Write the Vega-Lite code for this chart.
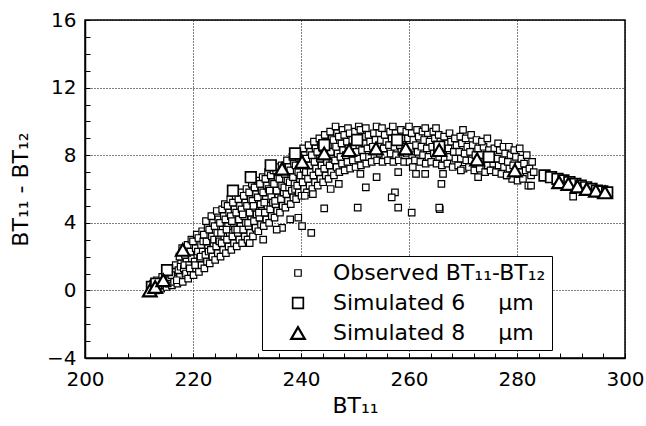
{
"$schema":"https://vega.github.io/schema/vega-lite/v6.json",
"width":540,"height":338,
"autosize":{"type":"none"},
"padding":{"left":85,"top":20,"right":21,"bottom":68},
"background":"white",
"config":{"font":"DejaVu Sans","view":{"stroke":"black","strokeWidth":1.5}},
"data":{"values":[
{"s":"o","x":212.1,"y":0.1},{"s":"o","x":212.6,"y":0.4},{"s":"o","x":212.3,"y":-0.1},
{"s":"o","x":213.1,"y":0.0},{"s":"o","x":213.6,"y":0.3},{"s":"o","x":213.3,"y":0.6},{"s":"o","x":213.8,"y":0.2},
{"s":"o","x":214.1,"y":0.1},{"s":"o","x":214.6,"y":0.5},{"s":"o","x":214.3,"y":0.8},{"s":"o","x":214.8,"y":0.3},
{"s":"o","x":215.1,"y":0.2},{"s":"o","x":215.6,"y":0.6},{"s":"o","x":215.3,"y":1.0},{"s":"o","x":215.8,"y":1.3},{"s":"o","x":215.5,"y":0.4},
{"s":"o","x":216.1,"y":0.3},{"s":"o","x":216.6,"y":0.7},{"s":"o","x":216.3,"y":1.1},{"s":"o","x":216.8,"y":1.5},{"s":"o","x":216.5,"y":0.5},{"s":"o","x":216.0,"y":0.9},
{"s":"o","x":217.1,"y":0.4},{"s":"o","x":217.6,"y":0.8},{"s":"o","x":217.3,"y":1.2},{"s":"o","x":217.8,"y":1.6},{"s":"o","x":217.5,"y":2.0},{"s":"o","x":217.0,"y":0.6},{"s":"o","x":217.7,"y":1.4},
{"s":"o","x":218.1,"y":0.5},{"s":"o","x":218.6,"y":0.9},{"s":"o","x":218.3,"y":1.3},{"s":"o","x":218.8,"y":1.7},{"s":"o","x":218.5,"y":2.1},{"s":"o","x":218.0,"y":2.5},{"s":"o","x":218.7,"y":1.0},{"s":"o","x":218.4,"y":1.5},
{"s":"o","x":219.1,"y":0.7},{"s":"o","x":219.6,"y":1.1},{"s":"o","x":219.3,"y":1.5},{"s":"o","x":219.8,"y":1.9},{"s":"o","x":219.5,"y":2.3},{"s":"o","x":219.0,"y":2.7},{"s":"o","x":219.7,"y":3.0},{"s":"o","x":219.4,"y":1.3},
{"s":"o","x":220.1,"y":0.9},{"s":"o","x":220.6,"y":1.3},{"s":"o","x":220.3,"y":1.7},{"s":"o","x":220.8,"y":2.1},{"s":"o","x":220.5,"y":2.5},{"s":"o","x":220.0,"y":2.9},{"s":"o","x":220.7,"y":3.3},{"s":"o","x":220.4,"y":1.5},{"s":"o","x":220.9,"y":2.3},
{"s":"o","x":221.1,"y":1.1},{"s":"o","x":221.6,"y":1.5},{"s":"o","x":221.3,"y":1.9},{"s":"o","x":221.8,"y":2.3},{"s":"o","x":221.5,"y":2.7},{"s":"o","x":221.0,"y":3.1},{"s":"o","x":221.7,"y":3.5},{"s":"o","x":221.4,"y":2.0},{"s":"o","x":221.9,"y":2.9},
{"s":"o","x":222.1,"y":1.3},{"s":"o","x":222.6,"y":1.7},{"s":"o","x":222.3,"y":2.1},{"s":"o","x":222.8,"y":2.5},{"s":"o","x":222.5,"y":2.9},{"s":"o","x":222.0,"y":3.3},{"s":"o","x":222.7,"y":3.7},{"s":"o","x":222.4,"y":4.1},{"s":"o","x":222.9,"y":2.3},
{"s":"o","x":223.1,"y":1.6},{"s":"o","x":223.6,"y":2.0},{"s":"o","x":223.3,"y":2.4},{"s":"o","x":223.8,"y":2.8},{"s":"o","x":223.5,"y":3.2},{"s":"o","x":223.0,"y":3.6},{"s":"o","x":223.7,"y":4.0},{"s":"o","x":223.4,"y":4.4},{"s":"o","x":223.9,"y":3.0},
{"s":"o","x":224.1,"y":1.8},{"s":"o","x":224.6,"y":2.2},{"s":"o","x":224.3,"y":2.6},{"s":"o","x":224.8,"y":3.0},{"s":"o","x":224.5,"y":3.4},{"s":"o","x":224.0,"y":3.8},{"s":"o","x":224.7,"y":4.2},{"s":"o","x":224.4,"y":4.7},{"s":"o","x":224.9,"y":2.9},
{"s":"o","x":225.1,"y":2.0},{"s":"o","x":225.6,"y":2.4},{"s":"o","x":225.3,"y":2.8},{"s":"o","x":225.8,"y":3.2},{"s":"o","x":225.5,"y":3.6},{"s":"o","x":225.0,"y":4.0},{"s":"o","x":225.7,"y":4.4},{"s":"o","x":225.4,"y":4.8},{"s":"o","x":225.9,"y":5.1},{"s":"o","x":225.2,"y":3.4},
{"s":"o","x":226.1,"y":2.2},{"s":"o","x":226.6,"y":2.6},{"s":"o","x":226.3,"y":3.0},{"s":"o","x":226.8,"y":3.4},{"s":"o","x":226.5,"y":3.8},{"s":"o","x":226.0,"y":4.2},{"s":"o","x":226.7,"y":4.6},{"s":"o","x":226.4,"y":5.0},{"s":"o","x":226.9,"y":5.4},{"s":"o","x":226.2,"y":3.6},
{"s":"o","x":227.1,"y":2.4},{"s":"o","x":227.6,"y":2.8},{"s":"o","x":227.3,"y":3.2},{"s":"o","x":227.8,"y":3.6},{"s":"o","x":227.5,"y":4.0},{"s":"o","x":227.0,"y":4.4},{"s":"o","x":227.7,"y":4.8},{"s":"o","x":227.4,"y":5.2},{"s":"o","x":227.9,"y":5.6},{"s":"o","x":227.2,"y":4.1},
{"s":"o","x":228.1,"y":2.6},{"s":"o","x":228.6,"y":3.0},{"s":"o","x":228.3,"y":3.4},{"s":"o","x":228.8,"y":3.8},{"s":"o","x":228.5,"y":4.2},{"s":"o","x":228.0,"y":4.6},{"s":"o","x":228.7,"y":5.0},{"s":"o","x":228.4,"y":5.4},{"s":"o","x":228.9,"y":5.8},{"s":"o","x":228.2,"y":3.6},
{"s":"o","x":229.1,"y":2.8},{"s":"o","x":229.6,"y":3.2},{"s":"o","x":229.3,"y":3.6},{"s":"o","x":229.8,"y":4.0},{"s":"o","x":229.5,"y":4.4},{"s":"o","x":229.0,"y":4.8},{"s":"o","x":229.7,"y":5.2},{"s":"o","x":229.4,"y":5.6},{"s":"o","x":229.9,"y":6.0},{"s":"o","x":229.2,"y":4.5},
{"s":"o","x":230.1,"y":3.0},{"s":"o","x":230.6,"y":3.4},{"s":"o","x":230.3,"y":3.8},{"s":"o","x":230.8,"y":4.2},{"s":"o","x":230.5,"y":4.6},{"s":"o","x":230.0,"y":5.0},{"s":"o","x":230.7,"y":5.4},{"s":"o","x":230.4,"y":5.8},{"s":"o","x":230.9,"y":6.3},{"s":"o","x":230.2,"y":4.0},
{"s":"o","x":231.1,"y":3.2},{"s":"o","x":231.6,"y":3.7},{"s":"o","x":231.3,"y":4.1},{"s":"o","x":231.8,"y":4.5},{"s":"o","x":231.5,"y":4.9},{"s":"o","x":231.0,"y":5.3},{"s":"o","x":231.7,"y":5.7},{"s":"o","x":231.4,"y":6.1},{"s":"o","x":231.9,"y":6.5},{"s":"o","x":231.2,"y":5.0},
{"s":"o","x":232.1,"y":3.5},{"s":"o","x":232.6,"y":3.9},{"s":"o","x":232.3,"y":4.3},{"s":"o","x":232.8,"y":4.7},{"s":"o","x":232.5,"y":5.1},{"s":"o","x":232.0,"y":5.5},{"s":"o","x":232.7,"y":5.9},{"s":"o","x":232.4,"y":6.3},{"s":"o","x":232.9,"y":6.7},{"s":"o","x":232.2,"y":4.6},
{"s":"o","x":233.1,"y":3.8},{"s":"o","x":233.6,"y":4.2},{"s":"o","x":233.3,"y":4.6},{"s":"o","x":233.8,"y":5.0},{"s":"o","x":233.5,"y":5.4},{"s":"o","x":233.0,"y":5.8},{"s":"o","x":233.7,"y":6.2},{"s":"o","x":233.4,"y":6.6},{"s":"o","x":233.9,"y":7.0},{"s":"o","x":233.2,"y":5.2},
{"s":"o","x":234.1,"y":4.0},{"s":"o","x":234.6,"y":4.4},{"s":"o","x":234.3,"y":4.8},{"s":"o","x":234.8,"y":5.2},{"s":"o","x":234.5,"y":5.6},{"s":"o","x":234.0,"y":6.0},{"s":"o","x":234.7,"y":6.4},{"s":"o","x":234.4,"y":6.8},{"s":"o","x":234.9,"y":7.1},{"s":"o","x":234.2,"y":5.9},
{"s":"o","x":235.1,"y":4.3},{"s":"o","x":235.6,"y":4.7},{"s":"o","x":235.3,"y":5.1},{"s":"o","x":235.8,"y":5.5},{"s":"o","x":235.5,"y":5.9},{"s":"o","x":235.0,"y":6.3},{"s":"o","x":235.7,"y":6.7},{"s":"o","x":235.4,"y":7.1},{"s":"o","x":235.9,"y":7.3},{"s":"o","x":235.2,"y":5.3},
{"s":"o","x":236.1,"y":4.6},{"s":"o","x":236.6,"y":5.0},{"s":"o","x":236.3,"y":5.4},{"s":"o","x":236.8,"y":5.8},{"s":"o","x":236.5,"y":6.2},{"s":"o","x":236.0,"y":6.6},{"s":"o","x":236.7,"y":7.0},{"s":"o","x":236.4,"y":7.4},{"s":"o","x":236.9,"y":6.1},
{"s":"o","x":237.1,"y":4.9},{"s":"o","x":237.6,"y":5.3},{"s":"o","x":237.3,"y":5.7},{"s":"o","x":237.8,"y":6.1},{"s":"o","x":237.5,"y":6.5},{"s":"o","x":237.0,"y":6.9},{"s":"o","x":237.7,"y":7.3},{"s":"o","x":237.4,"y":7.7},{"s":"o","x":237.9,"y":6.4},
{"s":"o","x":238.1,"y":5.1},{"s":"o","x":238.6,"y":5.5},{"s":"o","x":238.3,"y":5.9},{"s":"o","x":238.8,"y":6.3},{"s":"o","x":238.5,"y":6.7},{"s":"o","x":238.0,"y":7.1},{"s":"o","x":238.7,"y":7.5},{"s":"o","x":238.4,"y":7.9},{"s":"o","x":238.9,"y":6.0},
{"s":"o","x":239.1,"y":5.4},{"s":"o","x":239.6,"y":5.8},{"s":"o","x":239.3,"y":6.2},{"s":"o","x":239.8,"y":6.6},{"s":"o","x":239.5,"y":7.0},{"s":"o","x":239.0,"y":7.4},{"s":"o","x":239.7,"y":7.8},{"s":"o","x":239.4,"y":8.1},{"s":"o","x":239.9,"y":6.8},
{"s":"o","x":240.1,"y":5.6},{"s":"o","x":240.6,"y":6.0},{"s":"o","x":240.3,"y":6.4},{"s":"o","x":240.8,"y":6.8},{"s":"o","x":240.5,"y":7.2},{"s":"o","x":240.0,"y":7.6},{"s":"o","x":240.7,"y":8.0},{"s":"o","x":240.4,"y":8.4},{"s":"o","x":240.9,"y":7.0},
{"s":"o","x":241.1,"y":5.8},{"s":"o","x":241.6,"y":6.2},{"s":"o","x":241.3,"y":6.6},{"s":"o","x":241.8,"y":7.0},{"s":"o","x":241.5,"y":7.4},{"s":"o","x":241.0,"y":7.8},{"s":"o","x":241.7,"y":8.2},{"s":"o","x":241.4,"y":8.6},
{"s":"o","x":242.1,"y":6.0},{"s":"o","x":242.6,"y":6.4},{"s":"o","x":242.3,"y":6.8},{"s":"o","x":242.8,"y":7.2},{"s":"o","x":242.5,"y":7.6},{"s":"o","x":242.0,"y":8.0},{"s":"o","x":242.7,"y":8.4},{"s":"o","x":242.4,"y":8.8},
{"s":"o","x":243.1,"y":6.2},{"s":"o","x":243.6,"y":6.6},{"s":"o","x":243.3,"y":7.0},{"s":"o","x":243.8,"y":7.4},{"s":"o","x":243.5,"y":7.8},{"s":"o","x":243.0,"y":8.2},{"s":"o","x":243.7,"y":8.6},{"s":"o","x":243.4,"y":9.0},
{"s":"o","x":244.1,"y":6.4},{"s":"o","x":244.6,"y":6.8},{"s":"o","x":244.3,"y":7.2},{"s":"o","x":244.8,"y":7.6},{"s":"o","x":244.5,"y":8.0},{"s":"o","x":244.0,"y":8.4},{"s":"o","x":244.7,"y":8.8},{"s":"o","x":244.4,"y":9.2},
{"s":"o","x":245.1,"y":6.6},{"s":"o","x":245.6,"y":7.0},{"s":"o","x":245.3,"y":7.4},{"s":"o","x":245.8,"y":7.8},{"s":"o","x":245.5,"y":8.2},{"s":"o","x":245.0,"y":8.6},{"s":"o","x":245.7,"y":9.0},{"s":"o","x":245.4,"y":9.4},
{"s":"o","x":246.1,"y":6.8},{"s":"o","x":246.6,"y":7.3},{"s":"o","x":246.3,"y":7.7},{"s":"o","x":246.8,"y":8.1},{"s":"o","x":246.5,"y":8.5},{"s":"o","x":246.0,"y":8.9},{"s":"o","x":246.7,"y":9.3},{"s":"o","x":246.4,"y":9.7},
{"s":"o","x":247.1,"y":7.0},{"s":"o","x":247.6,"y":7.5},{"s":"o","x":247.3,"y":7.9},{"s":"o","x":247.8,"y":8.3},{"s":"o","x":247.5,"y":8.7},{"s":"o","x":247.0,"y":9.1},{"s":"o","x":247.7,"y":9.5},
{"s":"o","x":248.1,"y":7.1},{"s":"o","x":248.6,"y":7.6},{"s":"o","x":248.3,"y":8.0},{"s":"o","x":248.8,"y":8.4},{"s":"o","x":248.5,"y":8.8},{"s":"o","x":248.0,"y":9.2},{"s":"o","x":248.7,"y":9.6},
{"s":"o","x":249.1,"y":7.2},{"s":"o","x":249.6,"y":7.7},{"s":"o","x":249.3,"y":8.1},{"s":"o","x":249.8,"y":8.5},{"s":"o","x":249.5,"y":8.9},{"s":"o","x":249.0,"y":9.3},
{"s":"o","x":250.1,"y":7.3},{"s":"o","x":250.6,"y":7.8},{"s":"o","x":250.3,"y":8.2},{"s":"o","x":250.8,"y":8.6},{"s":"o","x":250.5,"y":9.0},{"s":"o","x":250.0,"y":9.4},{"s":"o","x":250.7,"y":9.7},
{"s":"o","x":251.1,"y":7.4},{"s":"o","x":251.6,"y":7.9},{"s":"o","x":251.3,"y":8.3},{"s":"o","x":251.8,"y":8.7},{"s":"o","x":251.5,"y":9.1},{"s":"o","x":251.0,"y":9.5},
{"s":"o","x":252.1,"y":7.5},{"s":"o","x":252.6,"y":7.9},{"s":"o","x":252.3,"y":8.4},{"s":"o","x":252.8,"y":8.8},{"s":"o","x":252.5,"y":9.2},{"s":"o","x":252.0,"y":9.6},
{"s":"o","x":253.1,"y":7.6},{"s":"o","x":253.6,"y":8.0},{"s":"o","x":253.3,"y":8.5},{"s":"o","x":253.8,"y":8.9},{"s":"o","x":253.5,"y":9.3},
{"s":"o","x":254.1,"y":7.7},{"s":"o","x":254.6,"y":8.1},{"s":"o","x":254.3,"y":8.5},{"s":"o","x":254.8,"y":8.9},{"s":"o","x":254.5,"y":9.3},{"s":"o","x":254.0,"y":9.7},
{"s":"o","x":255.1,"y":7.6},{"s":"o","x":255.6,"y":8.0},{"s":"o","x":255.3,"y":8.4},{"s":"o","x":255.8,"y":8.8},{"s":"o","x":255.5,"y":9.2},{"s":"o","x":255.0,"y":9.6},
{"s":"o","x":256.1,"y":7.7},{"s":"o","x":256.6,"y":8.1},{"s":"o","x":256.3,"y":8.6},{"s":"o","x":256.8,"y":9.0},{"s":"o","x":256.5,"y":9.4},
{"s":"o","x":257.1,"y":7.6},{"s":"o","x":257.6,"y":8.0},{"s":"o","x":257.3,"y":8.5},{"s":"o","x":257.8,"y":8.9},{"s":"o","x":257.5,"y":9.3},{"s":"o","x":257.0,"y":9.7},
{"s":"o","x":258.1,"y":7.7},{"s":"o","x":258.6,"y":8.2},{"s":"o","x":258.3,"y":8.6},{"s":"o","x":258.8,"y":9.0},{"s":"o","x":258.5,"y":9.5},
{"s":"o","x":259.1,"y":7.6},{"s":"o","x":259.6,"y":8.1},{"s":"o","x":259.3,"y":8.5},{"s":"o","x":259.8,"y":9.0},{"s":"o","x":259.5,"y":9.4},
{"s":"o","x":260.1,"y":7.6},{"s":"o","x":260.6,"y":8.0},{"s":"o","x":260.3,"y":8.5},{"s":"o","x":260.8,"y":8.9},{"s":"o","x":260.5,"y":9.3},{"s":"o","x":260.0,"y":9.7},
{"s":"o","x":261.1,"y":7.7},{"s":"o","x":261.6,"y":8.2},{"s":"o","x":261.3,"y":8.6},{"s":"o","x":261.8,"y":9.1},{"s":"o","x":261.5,"y":9.5},
{"s":"o","x":262.1,"y":7.6},{"s":"o","x":262.6,"y":8.0},{"s":"o","x":262.3,"y":8.5},{"s":"o","x":262.8,"y":8.9},{"s":"o","x":262.5,"y":9.4},
{"s":"o","x":263.1,"y":7.5},{"s":"o","x":263.6,"y":7.9},{"s":"o","x":263.3,"y":8.4},{"s":"o","x":263.8,"y":8.8},{"s":"o","x":263.5,"y":9.3},{"s":"o","x":263.0,"y":9.6},
{"s":"o","x":264.1,"y":7.6},{"s":"o","x":264.6,"y":8.1},{"s":"o","x":264.3,"y":8.5},{"s":"o","x":264.8,"y":9.0},{"s":"o","x":264.5,"y":9.4},
{"s":"o","x":265.1,"y":7.5},{"s":"o","x":265.6,"y":7.9},{"s":"o","x":265.3,"y":8.4},{"s":"o","x":265.8,"y":8.8},{"s":"o","x":265.5,"y":9.2},{"s":"o","x":265.0,"y":9.6},
{"s":"o","x":266.1,"y":7.4},{"s":"o","x":266.6,"y":7.8},{"s":"o","x":266.3,"y":8.3},{"s":"o","x":266.8,"y":8.7},{"s":"o","x":266.5,"y":9.1},
{"s":"o","x":267.1,"y":7.5},{"s":"o","x":267.6,"y":7.9},{"s":"o","x":267.3,"y":8.4},{"s":"o","x":267.8,"y":8.8},{"s":"o","x":267.5,"y":9.3},
{"s":"o","x":268.1,"y":7.3},{"s":"o","x":268.6,"y":7.8},{"s":"o","x":268.3,"y":8.2},{"s":"o","x":268.8,"y":8.6},{"s":"o","x":268.5,"y":9.0},
{"s":"o","x":269.1,"y":7.4},{"s":"o","x":269.6,"y":7.8},{"s":"o","x":269.3,"y":8.2},{"s":"o","x":269.8,"y":8.7},{"s":"o","x":269.5,"y":9.1},
{"s":"o","x":270.1,"y":7.2},{"s":"o","x":270.6,"y":7.7},{"s":"o","x":270.3,"y":8.1},{"s":"o","x":270.8,"y":8.5},{"s":"o","x":270.5,"y":9.0},{"s":"o","x":270.0,"y":9.5},
{"s":"o","x":271.1,"y":7.3},{"s":"o","x":271.6,"y":7.7},{"s":"o","x":271.3,"y":8.2},{"s":"o","x":271.8,"y":8.6},{"s":"o","x":271.5,"y":9.2},
{"s":"o","x":272.1,"y":7.1},{"s":"o","x":272.6,"y":7.5},{"s":"o","x":272.3,"y":8.0},{"s":"o","x":272.8,"y":8.4},{"s":"o","x":272.5,"y":8.9},
{"s":"o","x":273.1,"y":7.2},{"s":"o","x":273.6,"y":7.6},{"s":"o","x":273.3,"y":8.0},{"s":"o","x":273.8,"y":8.5},{"s":"o","x":273.5,"y":8.8},
{"s":"o","x":274.1,"y":7.0},{"s":"o","x":274.6,"y":7.4},{"s":"o","x":274.3,"y":7.9},{"s":"o","x":274.8,"y":8.3},{"s":"o","x":274.5,"y":9.0},
{"s":"o","x":275.1,"y":7.1},{"s":"o","x":275.6,"y":7.5},{"s":"o","x":275.3,"y":7.9},{"s":"o","x":275.8,"y":8.4},
{"s":"o","x":276.1,"y":7.0},{"s":"o","x":276.6,"y":7.4},{"s":"o","x":276.3,"y":7.8},{"s":"o","x":276.8,"y":8.3},{"s":"o","x":276.5,"y":8.7},
{"s":"o","x":277.1,"y":6.9},{"s":"o","x":277.6,"y":7.3},{"s":"o","x":277.3,"y":7.7},{"s":"o","x":277.8,"y":8.1},{"s":"o","x":277.5,"y":8.5},
{"s":"o","x":278.1,"y":6.8},{"s":"o","x":278.6,"y":7.2},{"s":"o","x":278.3,"y":7.6},{"s":"o","x":278.8,"y":8.0},{"s":"o","x":278.5,"y":8.5},
{"s":"o","x":279.1,"y":6.6},{"s":"o","x":279.6,"y":7.0},{"s":"o","x":279.3,"y":7.4},{"s":"o","x":279.8,"y":7.9},{"s":"o","x":279.5,"y":8.3},
{"s":"o","x":280.1,"y":6.5},{"s":"o","x":280.6,"y":7.0},{"s":"o","x":280.3,"y":7.4},{"s":"o","x":280.8,"y":7.8},{"s":"o","x":280.5,"y":8.4},
{"s":"o","x":281.1,"y":6.6},{"s":"o","x":281.6,"y":7.1},{"s":"o","x":281.3,"y":7.5},{"s":"o","x":281.8,"y":8.0},
{"s":"o","x":282.1,"y":6.2},{"s":"o","x":282.6,"y":6.8},{"s":"o","x":282.3,"y":7.2},{"s":"o","x":282.8,"y":7.6},
{"s":"o","x":283.1,"y":7.0},
{"s":"o","x":244.3,"y":4.85},{"s":"o","x":250.5,"y":4.9},{"s":"o","x":252.0,"y":6.1},{"s":"o","x":257.4,"y":5.8},{"s":"o","x":256.8,"y":5.5},{"s":"o","x":258.0,"y":4.9},{"s":"o","x":260.5,"y":4.6},{"s":"o","x":265.7,"y":4.8},{"s":"o","x":266.0,"y":6.3},{"s":"o","x":266.3,"y":6.9},{"s":"o","x":261.3,"y":6.9},{"s":"o","x":241.9,"y":3.4},{"s":"o","x":240.2,"y":3.8},{"s":"o","x":251.0,"y":6.9},{"s":"o","x":258.0,"y":7.0},{"s":"o","x":242.2,"y":5.7},{"s":"o","x":240.7,"y":5.6},{"s":"o","x":238.0,"y":4.2},{"s":"o","x":239.5,"y":4.3},{"s":"o","x":236.5,"y":3.7},{"s":"o","x":235.5,"y":3.6},{"s":"o","x":233.0,"y":3.0},{"s":"o","x":230.5,"y":2.8},{"s":"o","x":260.7,"y":7.3},{"s":"o","x":269.6,"y":7.1},{"s":"o","x":272.8,"y":6.7},{"s":"o","x":278.1,"y":6.8},{"s":"o","x":265.6,"y":4.9},{"s":"o","x":290.4,"y":5.55},{"s":"o","x":282.6,"y":6.2},{"s":"o","x":247.0,"y":6.3},{"s":"o","x":254.0,"y":6.7},{"s":"o","x":263.0,"y":6.9},{"s":"o","x":245.5,"y":6.0},
{"s":"a","x":212.4,"y":0.2},{"s":"a","x":213.2,"y":0.4},{"s":"a","x":215.2,"y":1.2},{"s":"a","x":227.4,"y":5.9},{"s":"a","x":230.7,"y":6.7},{"s":"a","x":234.4,"y":7.4},{"s":"a","x":238.9,"y":8.1},{"s":"a","x":244.3,"y":8.6},{"s":"a","x":250.4,"y":8.9},{"s":"a","x":257.8,"y":8.9},{"s":"a","x":265.6,"y":8.5},{"s":"a","x":274.8,"y":7.9},{"s":"a","x":285.1,"y":6.8},{"s":"a","x":286.3,"y":6.7},{"s":"a","x":287.5,"y":6.6},{"s":"a","x":288.6,"y":6.5},{"s":"a","x":289.7,"y":6.4},{"s":"a","x":290.8,"y":6.3},{"s":"a","x":291.8,"y":6.2},{"s":"a","x":292.8,"y":6.1},{"s":"a","x":293.8,"y":6.0},{"s":"a","x":294.8,"y":5.9},{"s":"a","x":295.8,"y":5.85},{"s":"a","x":296.7,"y":5.8},
{"s":"b","x":212.0,"y":0.0},{"s":"b","x":213.0,"y":0.2},{"s":"b","x":214.5,"y":0.6},{"s":"b","x":218.1,"y":2.4},{"s":"b","x":236.5,"y":7.2},{"s":"b","x":240.2,"y":7.6},{"s":"b","x":244.3,"y":8.1},{"s":"b","x":248.9,"y":8.3},{"s":"b","x":253.9,"y":8.4},{"s":"b","x":259.4,"y":8.4},{"s":"b","x":265.6,"y":8.3},{"s":"b","x":272.6,"y":7.75},{"s":"b","x":279.6,"y":7.1},{"s":"b","x":287.8,"y":6.4},{"s":"b","x":289.5,"y":6.3},{"s":"b","x":291.2,"y":6.15},{"s":"b","x":292.9,"y":6.0},{"s":"b","x":294.6,"y":5.9},{"s":"b","x":296.3,"y":5.8}
]},
"mark":{"type":"point","filled":true,"fill":"white","stroke":"black","opacity":1},
"encoding":{
"x":{"field":"x","type":"quantitative","scale":{"domain":[200,300],"nice":false,"zero":false},
"axis":{"values":[200,204,208,212,216,220,224,228,232,236,240,244,248,252,256,260,264,268,272,276,280,284,288,292,296,300],
"labelExpr":"datum.value % 20 === 0 ? datum.label : ''","labelOverlap":false,"labelFlush":false,
"title":"BT₁₁","grid":true,"gridColor":"black","gridDash":[1,2],"gridWidth":1,
"gridOpacity":{"condition":{"test":"datum.value % 20 === 0","value":1},"value":0},
"domainColor":"black","domainWidth":1.5,"tickColor":"black","tickSize":-5,"tickWidth":1,
"labelFontSize":20,"labelColor":"black","labelPadding":16,
"titleFontSize":22,"titleFontWeight":"normal","titleColor":"black","titlePadding":6}},
"y":{"field":"y","type":"quantitative","scale":{"domain":[-4,16],"nice":false,"zero":false},
"axis":{"values":[-4,-3,-2,-1,0,1,2,3,4,5,6,7,8,9,10,11,12,13,14,15,16],
"labelExpr":"datum.value % 4 === 0 ? datum.label : ''","labelOverlap":false,"labelFlush":false,
"title":"BT₁₁ - BT₁₂","grid":true,"gridColor":"black","gridDash":[1,2],"gridWidth":1,
"gridOpacity":{"condition":{"test":"datum.value % 4 === 0","value":1},"value":0},
"domainColor":"black","domainWidth":1.5,"tickColor":"black","tickSize":-5,"tickWidth":1,
"labelFontSize":20,"labelColor":"black","labelPadding":14,
"titleFontSize":22,"titleFontWeight":"normal","titleColor":"black","titlePadding":14}},
"shape":{"field":"s","type":"ordinal","scale":{"domain":["o","a","b"],"range":["square","square","triangle-up"]},
"legend":{"orient":"none","legendX":177,"legendY":236,"title":null,
"labelExpr":"datum.value === 'o' ? 'Observed BT₁₁-BT₁₂' : datum.value === 'a' ? 'Simulated 6\u2003\u2002μm' : 'Simulated 8\u2003\u2002μm'",
"labelFontSize":22,"labelLimit":400,"labelColor":"black","strokeColor":"black","fillColor":"white","padding":6,"rowPadding":8,"symbolOffset":19,"labelOffset":24,"symbolFillColor":"white","symbolStrokeColor":"black"}},
"size":{"field":"s","type":"ordinal","scale":{"domain":["o","a","b"],"range":[42,185,110]}},
"strokeWidth":{"field":"s","type":"ordinal","scale":{"domain":["o","a","b"],"range":[1.2,2.2,2.6]}}
}
}
